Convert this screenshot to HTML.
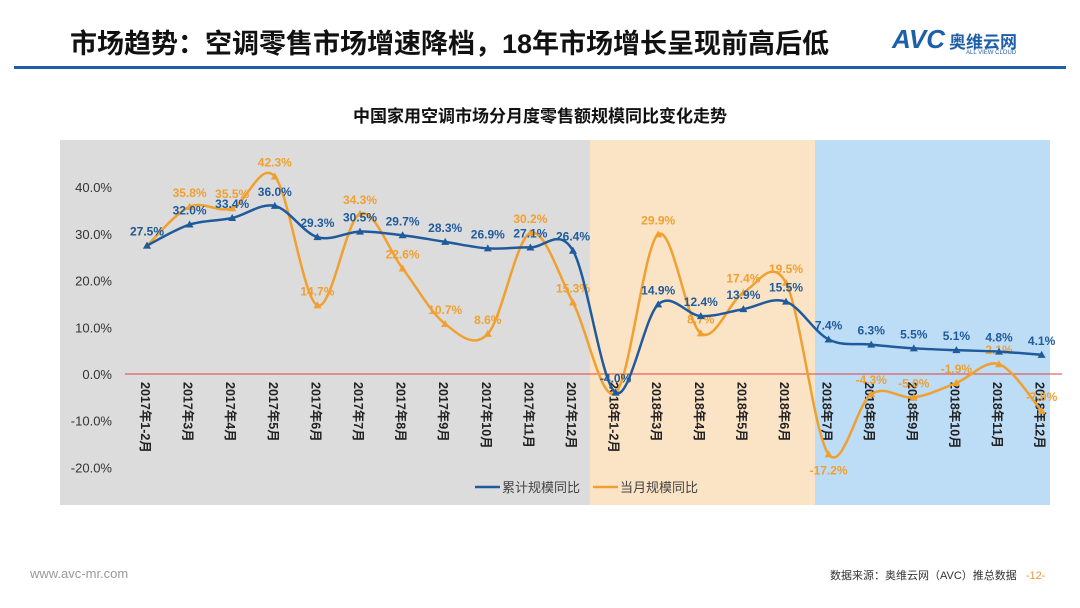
<!DOCTYPE html>
<html><head><meta charset="utf-8"><style>
body{margin:0;width:1080px;height:608px;background:#fff;overflow:hidden;font-family:"Liberation Sans","Noto Sans CJK SC",sans-serif;position:relative}
.t{position:absolute;white-space:nowrap}
</style></head><body>
<div class="t" style="left:70px;top:22px;font-size:27px;font-weight:bold;color:#111">市场趋势：空调零售市场增速降档，18年市场增长呈现前高后低</div>
<div class="t" style="left:892px;top:24px;font-size:26px;font-weight:bold;color:#1f5fa8;font-style:italic">AVC<span style="font-size:17px;font-style:normal;margin-left:4px">奥维云网</span></div>
<div class="t" style="left:966px;top:50px;font-size:6px;color:#1f5fa8">ALL VIEW CLOUD</div>
<div style="position:absolute;left:14px;top:66px;width:1052px;height:3px;background:#1f5fa8"></div>
<div class="t" style="left:0;width:1080px;text-align:center;top:102px;font-size:17px;font-weight:bold;color:#111">中国家用空调市场分月度零售额规模同比变化走势</div>
<svg id="c" width="1080" height="608" style="position:absolute;left:0;top:0"></svg>
<div class="t" style="left:30px;top:566px;font-size:13px;color:#999">www.avc-mr.com</div>
<div class="t" style="left:830px;top:567px;font-size:11px;color:#333">数据来源：奥维云网（AVC）推总数据 <span style="color:#e89a3c;margin-left:6px">-12-</span></div>
<script>
const categories=["2017年1-2月","2017年3月","2017年4月","2017年5月","2017年6月","2017年7月","2017年8月","2017年9月","2017年10月","2017年11月","2017年12月","2018年1-2月","2018年3月","2018年4月","2018年5月","2018年6月","2018年7月","2018年8月","2018年9月","2018年10月","2018年11月","2018年12月"];
const cumulative=[27.5,32.0,33.4,36.0,29.3,30.5,29.7,28.3,26.9,27.1,26.4,-4.0,14.9,12.4,13.9,15.5,7.4,6.3,5.5,5.1,4.8,4.1];
const monthly=[27.5,35.8,35.5,42.3,14.7,34.3,22.6,10.7,8.6,30.2,15.3,-4.0,29.9,8.7,17.4,19.5,-17.2,-4.3,-5.0,-1.9,2.1,-7.9];
const yTicks=[40,30,20,10,0,-10,-20];
const svg=document.getElementById('c');const NS='http://www.w3.org/2000/svg';
function X(i){return 147+i*42.6}
function Y(v){return 374-v*4.67}
function mk(tag,a,txt){const e=document.createElementNS(NS,tag);for(const k in a)e.setAttribute(k,a[k]);if(txt!==undefined)e.textContent=txt;svg.appendChild(e);return e}
const bg=[[60,590,'#dcdcdc','bg-2017'],[590,815,'#fbe3c6','bg-2018-h1'],[815,1050,'#bddcf6','bg-2018-h2']];
bg.forEach(b=>{const r=mk('rect',{x:b[0],y:140,width:b[1]-b[0],height:365,fill:b[2]});

});
yTicks.forEach(v=>{const t=mk('text',{x:112,y:Y(v)+5,'text-anchor':'end','font-size':13,fill:'#333'},v.toFixed(1)+'%');

});
const zl=mk('line',{x1:125,x2:1062,y1:Y(0),y2:Y(0),stroke:'#e04040','stroke-width':1});


categories.forEach((c,i)=>{const t=mk('text',{transform:`translate(${X(i)-6},${Y(0)+8}) rotate(90)`,'font-size':12.5,'font-weight':'bold',fill:'#222'},c);

});
function path(vals){let p=`M${X(0)},${Y(vals[0])}`;for(let i=0;i<vals.length-1;i++){const p0=[X(Math.max(i-1,0)),Y(vals[Math.max(i-1,0)])],p1=[X(i),Y(vals[i])],p2=[X(i+1),Y(vals[i+1])],p3=[X(Math.min(i+2,vals.length-1)),Y(vals[Math.min(i+2,vals.length-1)])];
const c1=[p1[0]+(p2[0]-p0[0])/6,p1[1]+(p2[1]-p0[1])/6],c2=[p2[0]-(p3[0]-p1[0])/6,p2[1]-(p3[1]-p1[1])/6];p+=` C${c1} ${c2} ${p2}`;}return p}
function series(vals,col,name,dy){const l=mk('path',{d:path(vals),fill:'none',stroke:col,'stroke-width':2.5});


vals.forEach((v,i)=>{const m=mk('path',{d:`M${X(i)-4},${Y(v)+3}L${X(i)+4},${Y(v)+3}L${X(i)},${Y(v)-4}Z`,fill:col});


const off=(v<-10)?20:dy;
const t=mk('text',{x:X(i),y:Y(v)+off,'text-anchor':'middle','font-size':12,'font-weight':'bold',fill:col},v.toFixed(1)+'%');

});}
series(monthly,'#f0a030','monthly',-10);
series(cumulative,'#1f5b9c','cumulative',-10);
const lg=[[475,'#1f5b9c','累计规模同比','legend-cumulative'],[593,'#f0a030','当月规模同比','legend-monthly']];
lg.forEach(g=>{const l=mk('line',{x1:g[0],x2:g[0]+25,y1:487,y2:487,stroke:g[1],'stroke-width':2.5});


const t=mk('text',{x:g[0]+27,y:492,'font-size':13,fill:'#444'},g[2]);

});
</script>
</body></html>
